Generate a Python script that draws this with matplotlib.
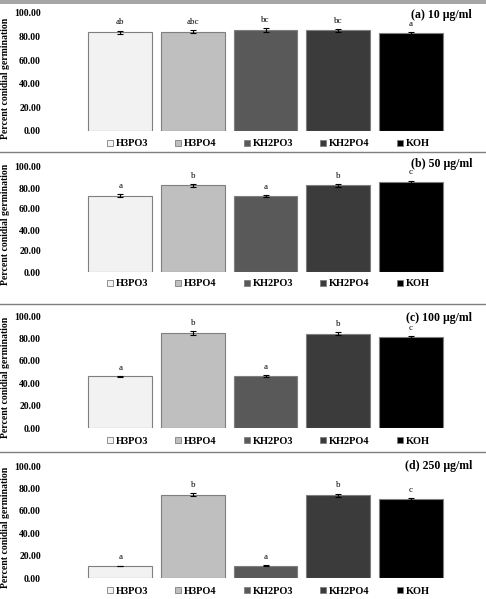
import matplotlib
matplotlib.use("Agg")
import matplotlib.pyplot as plt
from matplotlib.patches import Patch, Rectangle
from matplotlib.lines import Line2D

# treatments and bar colours
treatments = ["H3PO3", "H3PO4", "KH2PO3", "KH2PO4", "KOH"]
colors = ["#f2f2f2", "#bfbfbf", "#595959", "#3b3b3b", "#000000"]

# percent conidial germination, one list per concentration
vals_10 = [83.6, 84.0, 85.3, 85.2, 82.8]
err_10 = [1.5, 1.3, 1.6, 1.4, 1.2]
let_10 = ["ab", "abc", "bc", "bc", "a"]

vals_50 = [72.8, 82.6, 72.2, 82.6, 85.8]
err_50 = [1.2, 1.3, 1.2, 1.3, 1.2]
let_50 = ["a", "b", "a", "b", "c"]

vals_100 = [46.0, 85.0, 46.2, 84.2, 81.2]
err_100 = [0.7, 1.6, 0.7, 1.5, 1.0]
let_100 = ["a", "b", "a", "b", "c"]

vals_250 = [10.8, 74.2, 11.0, 74.0, 70.4]
err_250 = [0.3, 1.3, 0.3, 1.4, 0.8]
let_250 = ["a", "b", "a", "b", "c"]

titles = ["(a) 10 µg/ml", "(b) 50 µg/ml", "(c) 100 µg/ml", "(d) 250 µg/ml"]
yticks = [0, 20, 40, 60, 80, 100]

W, H = 486, 599
plt.rcParams["font.family"] = ["Liberation Serif", "DejaVu Serif"]

fig = plt.figure(figsize=(W / 100, H / 100), dpi=100)

# panel geometry in pixels from top: (y at 0, y at 100, legend y, title y)
panels = [
    (131, 13, 144, 15),
    (272, 167, 284, 164),
    (428, 316, 441, 318),
    (578, 466, 591, 466),
]
data = [
    (vals_10, err_10, let_10),
    (vals_50, err_50, let_50),
    (vals_100, err_100, let_100),
    (vals_250, err_250, let_250),
]

x_left, x_right = 84, 447

for i in range(4):
    y0, y100, yleg, ytit = panels[i]
    vals, errs, lets = data[i]
    ax = fig.add_axes([x_left / W, 1 - y0 / H, (x_right - x_left) / W, (y0 - y100) / H])
    xs = list(range(len(treatments)))
    ax.bar(xs, vals, width=0.88, color=colors, edgecolor="#7f7f7f", linewidth=0.8, zorder=2)
    ax.errorbar(xs, vals, yerr=errs, fmt="none", ecolor="black", elinewidth=0.8,
                capsize=2, capthick=0.8, zorder=3)
    for x, v, e, l in zip(xs, vals, errs, lets):
        ax.annotate(l, (x, v + e), xytext=(0, 3), textcoords="offset points",
                    ha="center", va="bottom", fontsize=6.5)
    ax.set_xlim(-0.5, 4.5)
    ax.set_ylim(0, 100)
    ax.set_yticks(yticks)
    ax.set_yticklabels(["%.2f" % t for t in yticks], fontsize=7, fontweight="bold")
    ax.tick_params(axis="y", length=0, pad=31)
    ax.set_xticks([])
    for s in ax.spines.values():
        s.set_visible(False)
    ax.set_ylabel("Percent conidial germination", fontsize=7, fontweight="bold")
    ax.yaxis.set_label_coords((10 - x_left) / (x_right - x_left), 0.45)

    handles = [Patch(facecolor=c, edgecolor="#7f7f7f", linewidth=0.6) for c in colors]
    fig.legend(handles, treatments, loc="center", ncol=5,
               bbox_to_anchor=(268 / W, 1 - yleg / H), frameon=False,
               prop={"size": 7.5, "weight": "bold"}, handlelength=0.6, handleheight=0.6,
               handletextpad=0.25, columnspacing=2.6, borderaxespad=0, borderpad=0)

    fig.text(472 / W, 1 - ytit / H, titles[i], ha="right", va="center",
             fontsize=8.5, fontweight="bold")

# separators between panels and grey band at the top
fig.patches.append(Rectangle((0, 1 - 4 / H), 1, 4 / H, transform=fig.transFigure,
                             facecolor="#a6a6a6", edgecolor="none"))
for yl in [152, 304, 452]:
    fig.lines.append(Line2D([0, 1], [1 - yl / H, 1 - yl / H], transform=fig.transFigure,
                            color="#7f7f7f", linewidth=1))

fig.savefig("out.png", dpi=100)
